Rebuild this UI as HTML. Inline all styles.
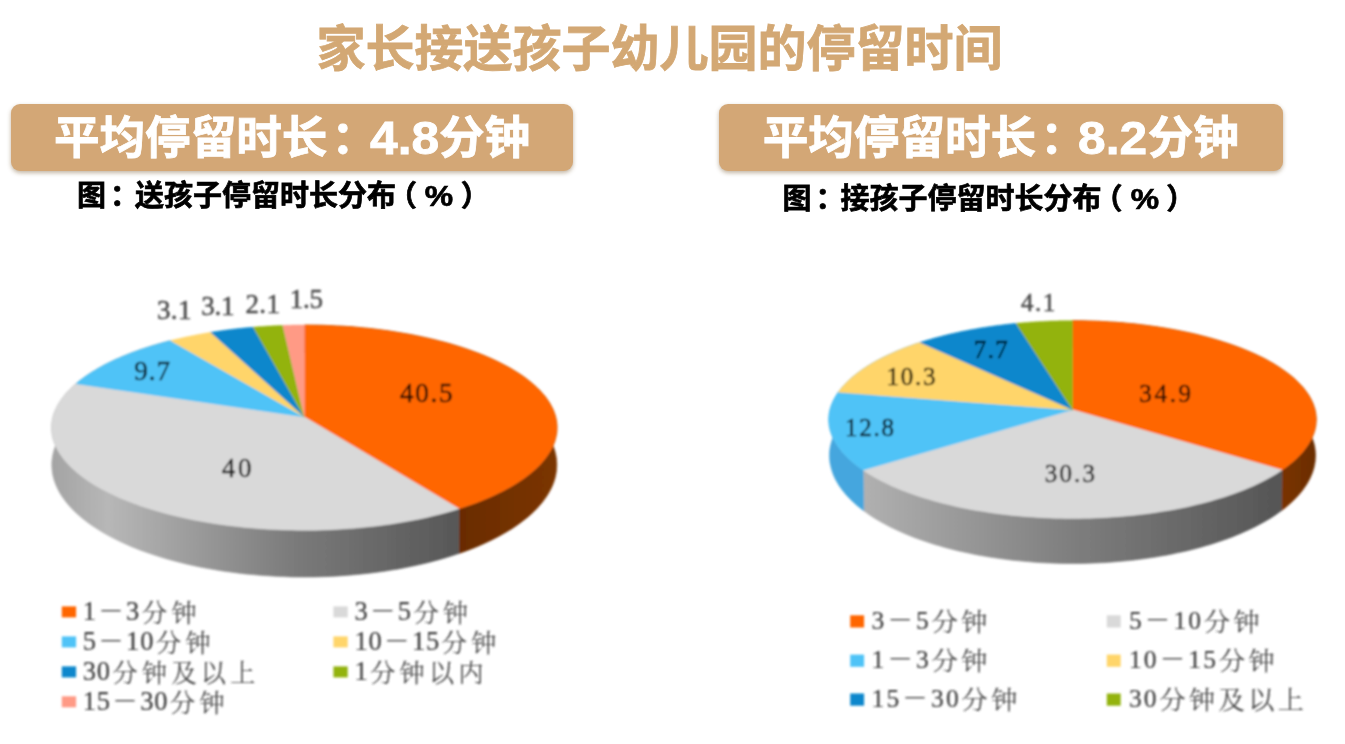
<!DOCTYPE html>
<html lang="zh-CN">
<head>
<meta charset="utf-8">
<title>家长接送孩子幼儿园的停留时间</title>
<style>
html,body{margin:0;padding:0;background:#fff;}
body{width:1345px;height:744px;position:relative;overflow:hidden;font-family:"Liberation Sans","Noto Sans CJK SC",sans-serif;}
.title{position:absolute;left:0;top:14px;width:1319px;text-align:center;font-size:49px;line-height:70px;font-weight:700;color:#d3a874;white-space:nowrap;letter-spacing:0;}
.banner{position:absolute;top:104.2px;height:66.4px;border-radius:9px;background:#d3a776;box-shadow:0 2px 4px rgba(120,90,50,.45);color:#fff;font-weight:700;font-size:45.6px;line-height:69px;text-align:center;white-space:nowrap;}
.b1{left:11px;width:562px;}
.b2{left:718.5px;width:564.5px;}
.sub{position:absolute;font-weight:700;font-size:29px;line-height:36px;color:#000;white-space:nowrap;-webkit-text-stroke:0.7px #000;}
.co{position:relative;left:0.09em;}
.sub .co{left:0.14em;}
.num{display:inline-block;transform:scaleX(1.09);transform-origin:0 50%;margin-left:-3.5px;margin-right:6px;}
.title{-webkit-text-stroke:0.8px #d3a874;}
.banner{-webkit-text-stroke:0.8px #fff;}
.lp{margin-left:-8px;margin-right:8px;}
.rp{margin-left:8px;}
.pc{display:inline-block;transform:scaleX(1.1);margin:0 1px;}
.s1{left:77px;top:178px;}
.s2{left:782.5px;top:181px;}
svg{position:absolute;left:0;top:0;}
svg text{font-family:"Liberation Serif","Noto Serif CJK SC",serif;}
svg text.lg{fill:#3d3d3d;font-weight:400;stroke:#3d3d3d;stroke-width:0.2px;}
svg text.cj{font-weight:300;}
#labels text{stroke-width:0.5px;}
</style>
</head>
<body>
<div class="title">家长接送孩子幼儿园的停留时间</div>
<div class="banner b1">平均停留时长<span class="co">：</span><span class="num">4.8</span>分钟</div>
<div class="banner b2">平均停留时长<span class="co">：</span><span class="num">8.2</span>分钟</div>
<div class="sub s1">图<span class="co">：</span>送孩子停留时长分布<span class="lp">（</span><span class="pc">%</span><span class="rp">）</span></div>
<div class="sub s2">图<span class="co">：</span>接孩子停留时长分布<span class="lp">（</span><span class="pc">%</span><span class="rp">）</span></div>
<svg width="1345" height="744" viewBox="0 0 1345 744">
<defs>
<filter id="soft" x="0" y="0" width="1345" height="744" filterUnits="userSpaceOnUse"><feGaussianBlur stdDeviation="0.8"/></filter>
<linearGradient id="w1g" gradientUnits="userSpaceOnUse" x1="51" y1="0" x2="459" y2="0">
<stop offset="0" stop-color="#a3a3a3"/><stop offset="0.14" stop-color="#b7b7b7"/><stop offset="0.6" stop-color="#7a7a7a"/><stop offset="1" stop-color="#575757"/>
</linearGradient>
<linearGradient id="w1o" gradientUnits="userSpaceOnUse" x1="459" y1="0" x2="557" y2="0">
<stop offset="0" stop-color="#6a2c00"/><stop offset="1" stop-color="#7b3500"/>
</linearGradient>
<linearGradient id="w2g" gradientUnits="userSpaceOnUse" x1="864" y1="0" x2="1281" y2="0">
<stop offset="0" stop-color="#b0b0b0"/><stop offset="0.5" stop-color="#7e7e7e"/><stop offset="1" stop-color="#555555"/>
</linearGradient>
<linearGradient id="w2o" gradientUnits="userSpaceOnUse" x1="1281" y1="0" x2="1317" y2="0">
<stop offset="0" stop-color="#7a3400"/><stop offset="1" stop-color="#6a2c00"/>
</linearGradient>
</defs>
<g filter="url(#soft)">
<g id="pie1">
<path d="M304.3 325.0 L310.7 325.1 L317.2 325.2 L323.6 325.3 L330.0 325.6 L336.4 325.9 L342.8 326.2 L349.1 326.6 L355.4 327.1 L361.7 327.7 L368.0 328.3 L374.2 329.0 L380.4 329.8 L386.6 330.6 L392.7 331.5 L398.7 332.5 L404.7 333.5 L410.6 334.5 L416.5 335.7 L422.3 336.9 L428.0 338.2 L433.7 339.5 L439.2 340.9 L444.7 342.3 L450.2 343.8 L455.5 345.4 L460.7 347.0 L465.8 348.7 L470.9 350.5 L475.8 352.3 L480.6 354.1 L485.3 356.0 L489.9 358.0 L494.4 360.0 L498.7 362.1 L502.9 364.2 L507.0 366.4 L511.0 368.6 L514.8 370.9 L518.5 373.2 L522.0 375.5 L525.4 377.9 L528.6 380.4 L531.7 382.9 L534.6 385.4 L537.3 387.9 L539.9 390.5 L542.3 393.2 L544.6 395.8 L546.6 398.5 L548.5 401.3 L550.2 404.0 L551.7 406.8 L553.1 409.6 L554.2 412.5 L555.2 415.3 L555.9 418.2 L556.5 421.1 L556.8 424.0 L557.0 426.9 L556.9 429.8 L556.7 432.7 L556.2 435.6 L555.5 438.6 L554.7 441.5 L553.6 444.4 L552.3 447.4 L550.8 450.3 L549.0 453.2 L547.1 456.1 L544.9 459.0 L542.6 461.8 L540.0 464.7 L537.2 467.5 L534.2 470.2 L531.0 473.0 L527.5 475.7 L523.9 478.4 L520.1 481.1 L516.0 483.7 L511.8 486.2 L507.3 488.7 L502.7 491.2 L497.9 493.6 L492.8 496.0 L487.6 498.3 L482.2 500.5 L476.7 502.7 L470.9 504.8 L465.0 506.8 L458.9 508.8 L458.8 553.5 L464.9 551.4 L470.8 549.2 L476.5 546.9 L482.1 544.5 L487.5 542.0 L492.7 539.5 L497.7 536.9 L502.5 534.3 L507.2 531.6 L511.6 528.9 L515.9 526.1 L519.9 523.2 L523.7 520.3 L527.4 517.4 L530.8 514.4 L534.0 511.4 L537.0 508.4 L539.8 505.3 L542.4 502.2 L544.7 499.1 L546.9 495.9 L548.8 492.8 L550.6 489.6 L552.1 486.4 L553.4 483.2 L554.5 480.0 L555.4 476.8 L556.0 473.6 L556.5 470.4 L556.7 467.2 L556.8 464.0 L556.6 460.8 L556.3 457.7 L555.7 454.5 L555.0 451.4 L554.0 448.3 L552.9 445.2 L551.5 442.1 L550.0 439.1 L548.3 436.0 L546.4 433.1 L544.4 430.1 L542.1 427.2 L539.7 424.3 L537.1 421.5 L534.4 418.7 L531.5 415.9 L528.4 413.2 L525.2 410.5 L521.8 407.9 L518.3 405.3 L514.6 402.8 L510.8 400.3 L506.8 397.9 L502.8 395.5 L498.5 393.2 L494.2 391.0 L489.7 388.8 L485.2 386.6 L480.5 384.5 L475.6 382.5 L470.7 380.5 L465.7 378.6 L460.6 376.8 L455.4 375.0 L450.0 373.3 L444.6 371.6 L439.1 370.1 L433.6 368.5 L427.9 367.1 L422.2 365.7 L416.4 364.4 L410.5 363.1 L404.6 362.0 L398.6 360.8 L392.6 359.8 L386.5 358.8 L380.4 357.9 L374.2 357.1 L368.0 356.3 L361.7 355.7 L355.4 355.0 L349.1 354.5 L342.7 354.0 L336.4 353.6 L330.0 353.3 L323.6 353.0 L317.1 352.9 L310.7 352.8 L304.3 352.7Z" fill="url(#w1o)" stroke="url(#w1o)" stroke-width="0.6"/>
<path d="M458.9 508.8 L452.8 510.7 L446.5 512.5 L440.0 514.2 L433.5 515.8 L426.8 517.4 L419.9 518.9 L413.0 520.3 L405.9 521.6 L398.7 522.8 L391.5 524.0 L384.1 525.0 L376.7 526.0 L369.1 526.8 L361.6 527.6 L353.9 528.3 L346.2 528.8 L338.5 529.3 L330.7 529.7 L322.9 530.0 L315.1 530.2 L307.2 530.3 L299.4 530.3 L291.6 530.1 L283.7 529.9 L276.0 529.6 L268.2 529.2 L260.5 528.7 L252.8 528.1 L245.1 527.4 L237.6 526.6 L230.1 525.7 L222.7 524.8 L215.3 523.7 L208.1 522.5 L200.9 521.3 L193.9 520.0 L187.0 518.5 L180.2 517.0 L173.5 515.4 L166.9 513.8 L160.5 512.0 L154.3 510.2 L148.1 508.3 L142.2 506.4 L136.4 504.3 L130.8 502.2 L125.3 500.1 L120.0 497.9 L114.9 495.6 L110.0 493.2 L105.2 490.8 L100.7 488.4 L96.3 485.9 L92.1 483.4 L88.1 480.8 L84.4 478.2 L80.8 475.5 L77.4 472.8 L74.3 470.1 L71.3 467.4 L68.5 464.6 L66.0 461.8 L63.7 459.0 L61.5 456.1 L59.6 453.3 L57.9 450.4 L56.4 447.5 L55.1 444.6 L54.0 441.7 L53.1 438.8 L52.4 435.9 L52.0 433.0 L51.7 430.2 L51.6 427.3 L51.7 424.4 L52.1 421.5 L52.6 418.7 L53.3 415.8 L54.2 413.0 L55.3 410.2 L56.6 407.4 L58.0 404.7 L59.7 402.0 L61.5 399.3 L63.5 396.6 L65.6 393.9 L68.0 391.3 L70.5 388.7 L73.1 386.2 L76.0 383.7 L76.1 416.8 L73.3 419.6 L70.7 422.4 L68.2 425.2 L65.8 428.0 L63.7 430.9 L61.7 433.8 L59.8 436.8 L58.2 439.8 L56.8 442.8 L55.5 445.8 L54.4 448.9 L53.5 452.0 L52.8 455.1 L52.3 458.2 L51.9 461.3 L51.8 464.4 L51.9 467.6 L52.2 470.8 L52.6 473.9 L53.3 477.1 L54.2 480.3 L55.3 483.4 L56.6 486.6 L58.1 489.7 L59.8 492.9 L61.7 496.0 L63.9 499.1 L66.2 502.2 L68.7 505.2 L71.5 508.3 L74.4 511.3 L77.6 514.2 L81.0 517.2 L84.5 520.1 L88.3 522.9 L92.3 525.8 L96.5 528.5 L100.8 531.2 L105.4 533.9 L110.1 536.5 L115.0 539.1 L120.1 541.6 L125.4 544.0 L130.9 546.4 L136.5 548.7 L142.3 550.9 L148.3 553.0 L154.4 555.1 L160.6 557.1 L167.0 559.0 L173.6 560.8 L180.3 562.5 L187.1 564.2 L194.0 565.7 L201.0 567.2 L208.1 568.5 L215.4 569.8 L222.7 571.0 L230.1 572.0 L237.6 573.0 L245.2 573.9 L252.8 574.6 L260.5 575.3 L268.2 575.8 L276.0 576.3 L283.8 576.6 L291.6 576.9 L299.4 577.0 L307.2 577.0 L315.1 576.9 L322.9 576.7 L330.7 576.4 L338.5 576.0 L346.2 575.4 L353.9 574.8 L361.5 574.1 L369.1 573.2 L376.6 572.3 L384.0 571.3 L391.4 570.1 L398.7 568.9 L405.8 567.5 L412.9 566.1 L419.8 564.6 L426.7 562.9 L433.4 561.2 L439.9 559.4 L446.4 557.6 L452.7 555.6 L458.8 553.5Z" fill="url(#w1g)" stroke="url(#w1g)" stroke-width="0.6"/>
<path d="M76.0 383.7 L76.7 383.1 L77.4 382.5 L78.1 381.9 L78.8 381.3 L79.6 380.7 L80.3 380.1 L81.1 379.5 L81.9 378.9 L82.7 378.4 L83.4 377.8 L84.2 377.2 L85.1 376.6 L85.9 376.1 L86.7 375.5 L87.5 374.9 L88.4 374.3 L89.2 373.8 L90.1 373.2 L90.9 372.7 L91.8 372.1 L92.7 371.6 L93.6 371.0 L94.5 370.5 L95.4 369.9 L96.3 369.4 L97.2 368.8 L98.2 368.3 L99.1 367.8 L100.0 367.2 L101.0 366.7 L102.0 366.2 L102.9 365.6 L103.9 365.1 L104.9 364.6 L105.9 364.1 L106.9 363.6 L107.9 363.1 L108.9 362.6 L109.9 362.1 L111.0 361.6 L112.0 361.1 L113.0 360.6 L114.1 360.1 L115.1 359.6 L116.2 359.1 L117.3 358.6 L118.4 358.2 L119.5 357.7 L120.5 357.2 L121.6 356.7 L122.7 356.3 L123.9 355.8 L125.0 355.3 L126.1 354.9 L127.2 354.4 L128.4 354.0 L129.5 353.5 L130.7 353.1 L131.8 352.6 L133.0 352.2 L134.2 351.8 L135.3 351.3 L136.5 350.9 L137.7 350.5 L138.9 350.1 L140.1 349.6 L141.3 349.2 L142.5 348.8 L143.8 348.4 L145.0 348.0 L146.2 347.6 L147.4 347.2 L148.7 346.8 L149.9 346.4 L151.2 346.0 L152.4 345.6 L153.7 345.2 L155.0 344.9 L156.2 344.5 L157.5 344.1 L158.8 343.7 L160.1 343.4 L161.4 343.0 L162.7 342.6 L164.0 342.3 L165.3 341.9 L166.6 341.6 L167.9 341.2 L169.3 340.9 L170.6 340.6 L170.7 369.7 L169.4 370.1 L168.0 370.5 L166.7 370.8 L165.4 371.2 L164.1 371.6 L162.8 372.0 L161.5 372.4 L160.2 372.8 L158.9 373.2 L157.6 373.6 L156.4 374.0 L155.1 374.4 L153.8 374.8 L152.6 375.2 L151.3 375.7 L150.1 376.1 L148.8 376.5 L147.6 376.9 L146.3 377.4 L145.1 377.8 L143.9 378.3 L142.7 378.7 L141.5 379.2 L140.2 379.6 L139.0 380.1 L137.9 380.5 L136.7 381.0 L135.5 381.5 L134.3 381.9 L133.1 382.4 L132.0 382.9 L130.8 383.4 L129.7 383.9 L128.5 384.4 L127.4 384.9 L126.2 385.4 L125.1 385.9 L124.0 386.4 L122.9 386.9 L121.8 387.4 L120.7 387.9 L119.6 388.4 L118.5 388.9 L117.4 389.4 L116.4 390.0 L115.3 390.5 L114.2 391.0 L113.2 391.6 L112.1 392.1 L111.1 392.7 L110.1 393.2 L109.1 393.8 L108.0 394.3 L107.0 394.9 L106.0 395.4 L105.0 396.0 L104.1 396.5 L103.1 397.1 L102.1 397.7 L101.2 398.3 L100.2 398.8 L99.3 399.4 L98.3 400.0 L97.4 400.6 L96.5 401.2 L95.6 401.8 L94.6 402.4 L93.7 403.0 L92.9 403.6 L92.0 404.2 L91.1 404.8 L90.2 405.4 L89.4 406.0 L88.5 406.6 L87.7 407.2 L86.9 407.9 L86.0 408.5 L85.2 409.1 L84.4 409.7 L83.6 410.4 L82.8 411.0 L82.1 411.6 L81.3 412.3 L80.5 412.9 L79.8 413.6 L79.0 414.2 L78.3 414.9 L77.6 415.5 L76.8 416.2 L76.1 416.8Z" fill="url(#w1g)" stroke="url(#w1g)" stroke-width="0.6"/>
<path d="M304.3 416.9 L304.3 325.0 L310.7 325.1 L317.2 325.2 L323.6 325.3 L330.0 325.6 L336.4 325.9 L342.8 326.2 L349.1 326.6 L355.4 327.1 L361.7 327.7 L368.0 328.3 L374.2 329.0 L380.4 329.8 L386.6 330.6 L392.7 331.5 L398.7 332.5 L404.7 333.5 L410.6 334.5 L416.5 335.7 L422.3 336.9 L428.0 338.2 L433.7 339.5 L439.2 340.9 L444.7 342.3 L450.2 343.8 L455.5 345.4 L460.7 347.0 L465.8 348.7 L470.9 350.5 L475.8 352.3 L480.6 354.1 L485.3 356.0 L489.9 358.0 L494.4 360.0 L498.7 362.1 L502.9 364.2 L507.0 366.4 L511.0 368.6 L514.8 370.9 L518.5 373.2 L522.0 375.5 L525.4 377.9 L528.6 380.4 L531.7 382.9 L534.6 385.4 L537.3 387.9 L539.9 390.5 L542.3 393.2 L544.6 395.8 L546.6 398.5 L548.5 401.3 L550.2 404.0 L551.7 406.8 L553.1 409.6 L554.2 412.5 L555.2 415.3 L555.9 418.2 L556.5 421.1 L556.8 424.0 L557.0 426.9 L556.9 429.8 L556.7 432.7 L556.2 435.6 L555.5 438.6 L554.7 441.5 L553.6 444.4 L552.3 447.4 L550.8 450.3 L549.0 453.2 L547.1 456.1 L544.9 459.0 L542.6 461.8 L540.0 464.7 L537.2 467.5 L534.2 470.2 L531.0 473.0 L527.5 475.7 L523.9 478.4 L520.1 481.1 L516.0 483.7 L511.8 486.2 L507.3 488.7 L502.7 491.2 L497.9 493.6 L492.8 496.0 L487.6 498.3 L482.2 500.5 L476.7 502.7 L470.9 504.8 L465.0 506.8 L458.9 508.8Z" fill="#ff6600" stroke="#ff6600" stroke-width="0.5"/>
<path d="M304.3 416.9 L458.9 508.8 L452.8 510.7 L446.5 512.5 L440.0 514.2 L433.5 515.8 L426.8 517.4 L419.9 518.9 L413.0 520.3 L405.9 521.6 L398.7 522.8 L391.5 524.0 L384.1 525.0 L376.7 526.0 L369.1 526.8 L361.6 527.6 L353.9 528.3 L346.2 528.8 L338.5 529.3 L330.7 529.7 L322.9 530.0 L315.1 530.2 L307.2 530.3 L299.4 530.3 L291.6 530.1 L283.7 529.9 L276.0 529.6 L268.2 529.2 L260.5 528.7 L252.8 528.1 L245.1 527.4 L237.6 526.6 L230.1 525.7 L222.7 524.8 L215.3 523.7 L208.1 522.5 L200.9 521.3 L193.9 520.0 L187.0 518.5 L180.2 517.0 L173.5 515.4 L166.9 513.8 L160.5 512.0 L154.3 510.2 L148.1 508.3 L142.2 506.4 L136.4 504.3 L130.8 502.2 L125.3 500.1 L120.0 497.9 L114.9 495.6 L110.0 493.2 L105.2 490.8 L100.7 488.4 L96.3 485.9 L92.1 483.4 L88.1 480.8 L84.4 478.2 L80.8 475.5 L77.4 472.8 L74.3 470.1 L71.3 467.4 L68.5 464.6 L66.0 461.8 L63.7 459.0 L61.5 456.1 L59.6 453.3 L57.9 450.4 L56.4 447.5 L55.1 444.6 L54.0 441.7 L53.1 438.8 L52.4 435.9 L52.0 433.0 L51.7 430.2 L51.6 427.3 L51.7 424.4 L52.1 421.5 L52.6 418.7 L53.3 415.8 L54.2 413.0 L55.3 410.2 L56.6 407.4 L58.0 404.7 L59.7 402.0 L61.5 399.3 L63.5 396.6 L65.6 393.9 L68.0 391.3 L70.5 388.7 L73.1 386.2 L76.0 383.7Z" fill="#d9d9d9" stroke="#d9d9d9" stroke-width="0.5"/>
<path d="M304.3 416.9 L76.0 383.7 L76.7 383.1 L77.4 382.5 L78.1 381.9 L78.8 381.3 L79.6 380.7 L80.3 380.1 L81.1 379.5 L81.9 378.9 L82.7 378.4 L83.4 377.8 L84.2 377.2 L85.1 376.6 L85.9 376.1 L86.7 375.5 L87.5 374.9 L88.4 374.3 L89.2 373.8 L90.1 373.2 L90.9 372.7 L91.8 372.1 L92.7 371.6 L93.6 371.0 L94.5 370.5 L95.4 369.9 L96.3 369.4 L97.2 368.8 L98.2 368.3 L99.1 367.8 L100.0 367.2 L101.0 366.7 L102.0 366.2 L102.9 365.6 L103.9 365.1 L104.9 364.6 L105.9 364.1 L106.9 363.6 L107.9 363.1 L108.9 362.6 L109.9 362.1 L111.0 361.6 L112.0 361.1 L113.0 360.6 L114.1 360.1 L115.1 359.6 L116.2 359.1 L117.3 358.6 L118.4 358.2 L119.5 357.7 L120.5 357.2 L121.6 356.7 L122.7 356.3 L123.9 355.8 L125.0 355.3 L126.1 354.9 L127.2 354.4 L128.4 354.0 L129.5 353.5 L130.7 353.1 L131.8 352.6 L133.0 352.2 L134.2 351.8 L135.3 351.3 L136.5 350.9 L137.7 350.5 L138.9 350.1 L140.1 349.6 L141.3 349.2 L142.5 348.8 L143.8 348.4 L145.0 348.0 L146.2 347.6 L147.4 347.2 L148.7 346.8 L149.9 346.4 L151.2 346.0 L152.4 345.6 L153.7 345.2 L155.0 344.9 L156.2 344.5 L157.5 344.1 L158.8 343.7 L160.1 343.4 L161.4 343.0 L162.7 342.6 L164.0 342.3 L165.3 341.9 L166.6 341.6 L167.9 341.2 L169.3 340.9 L170.6 340.6Z" fill="#4fc3f7" stroke="#4fc3f7" stroke-width="0.5"/>
<path d="M304.3 416.9 L170.6 340.6 L171.0 340.5 L171.4 340.4 L171.9 340.2 L172.3 340.1 L172.7 340.0 L173.1 339.9 L173.6 339.8 L174.0 339.7 L174.4 339.6 L174.9 339.5 L175.3 339.4 L175.7 339.3 L176.2 339.2 L176.6 339.1 L177.0 339.0 L177.4 338.9 L177.9 338.8 L178.3 338.7 L178.7 338.6 L179.2 338.5 L179.6 338.4 L180.0 338.3 L180.5 338.2 L180.9 338.1 L181.4 338.0 L181.8 337.9 L182.2 337.8 L182.7 337.7 L183.1 337.6 L183.5 337.5 L184.0 337.4 L184.4 337.3 L184.9 337.2 L185.3 337.1 L185.7 337.0 L186.2 336.9 L186.6 336.8 L187.1 336.7 L187.5 336.6 L188.0 336.5 L188.4 336.5 L188.8 336.4 L189.3 336.3 L189.7 336.2 L190.2 336.1 L190.6 336.0 L191.1 335.9 L191.5 335.8 L192.0 335.7 L192.4 335.6 L192.8 335.5 L193.3 335.5 L193.7 335.4 L194.2 335.3 L194.6 335.2 L195.1 335.1 L195.5 335.0 L196.0 334.9 L196.4 334.8 L196.9 334.8 L197.3 334.7 L197.8 334.6 L198.2 334.5 L198.7 334.4 L199.1 334.3 L199.6 334.2 L200.0 334.2 L200.5 334.1 L201.0 334.0 L201.4 333.9 L201.9 333.8 L202.3 333.7 L202.8 333.7 L203.2 333.6 L203.7 333.5 L204.1 333.4 L204.6 333.3 L205.1 333.3 L205.5 333.2 L206.0 333.1 L206.4 333.0 L206.9 333.0 L207.3 332.9 L207.8 332.8 L208.3 332.7 L208.7 332.6 L209.2 332.6 L209.6 332.5 L210.1 332.4 L210.6 332.3Z" fill="#ffd56b" stroke="#ffd56b" stroke-width="0.5"/>
<path d="M304.3 416.9 L210.6 332.3 L211.0 332.3 L211.5 332.2 L211.9 332.1 L212.4 332.0 L212.9 332.0 L213.3 331.9 L213.8 331.8 L214.3 331.8 L214.7 331.7 L215.2 331.6 L215.7 331.5 L216.1 331.5 L216.6 331.4 L217.0 331.3 L217.5 331.3 L218.0 331.2 L218.4 331.1 L218.9 331.1 L219.4 331.0 L219.8 330.9 L220.3 330.9 L220.8 330.8 L221.2 330.7 L221.7 330.7 L222.2 330.6 L222.7 330.5 L223.1 330.5 L223.6 330.4 L224.1 330.3 L224.5 330.3 L225.0 330.2 L225.5 330.1 L225.9 330.1 L226.4 330.0 L226.9 330.0 L227.4 329.9 L227.8 329.8 L228.3 329.8 L228.8 329.7 L229.2 329.7 L229.7 329.6 L230.2 329.5 L230.7 329.5 L231.1 329.4 L231.6 329.4 L232.1 329.3 L232.6 329.2 L233.0 329.2 L233.5 329.1 L234.0 329.1 L234.5 329.0 L234.9 329.0 L235.4 328.9 L235.9 328.9 L236.4 328.8 L236.8 328.7 L237.3 328.7 L237.8 328.6 L238.3 328.6 L238.7 328.5 L239.2 328.5 L239.7 328.4 L240.2 328.4 L240.7 328.3 L241.1 328.3 L241.6 328.2 L242.1 328.2 L242.6 328.1 L243.1 328.1 L243.5 328.0 L244.0 328.0 L244.5 327.9 L245.0 327.9 L245.4 327.8 L245.9 327.8 L246.4 327.7 L246.9 327.7 L247.4 327.7 L247.9 327.6 L248.3 327.6 L248.8 327.5 L249.3 327.5 L249.8 327.4 L250.3 327.4 L250.7 327.4 L251.2 327.3 L251.7 327.3 L252.2 327.2 L252.7 327.2 L253.2 327.1Z" fill="#0b87cc" stroke="#0b87cc" stroke-width="0.5"/>
<path d="M304.3 416.9 L253.2 327.1 L253.5 327.1 L253.8 327.1 L254.1 327.1 L254.5 327.0 L254.8 327.0 L255.1 327.0 L255.5 327.0 L255.8 326.9 L256.1 326.9 L256.4 326.9 L256.8 326.9 L257.1 326.8 L257.4 326.8 L257.7 326.8 L258.1 326.8 L258.4 326.7 L258.7 326.7 L259.1 326.7 L259.4 326.7 L259.7 326.6 L260.1 326.6 L260.4 326.6 L260.7 326.6 L261.0 326.5 L261.4 326.5 L261.7 326.5 L262.0 326.5 L262.4 326.4 L262.7 326.4 L263.0 326.4 L263.3 326.4 L263.7 326.4 L264.0 326.3 L264.3 326.3 L264.7 326.3 L265.0 326.3 L265.3 326.2 L265.7 326.2 L266.0 326.2 L266.3 326.2 L266.6 326.2 L267.0 326.1 L267.3 326.1 L267.6 326.1 L268.0 326.1 L268.3 326.1 L268.6 326.0 L269.0 326.0 L269.3 326.0 L269.6 326.0 L269.9 326.0 L270.3 326.0 L270.6 325.9 L270.9 325.9 L271.3 325.9 L271.6 325.9 L271.9 325.9 L272.3 325.8 L272.6 325.8 L272.9 325.8 L273.3 325.8 L273.6 325.8 L273.9 325.8 L274.3 325.7 L274.6 325.7 L274.9 325.7 L275.2 325.7 L275.6 325.7 L275.9 325.7 L276.2 325.7 L276.6 325.6 L276.9 325.6 L277.2 325.6 L277.6 325.6 L277.9 325.6 L278.2 325.6 L278.6 325.6 L278.9 325.5 L279.2 325.5 L279.6 325.5 L279.9 325.5 L280.2 325.5 L280.6 325.5 L280.9 325.5 L281.2 325.4 L281.6 325.4 L281.9 325.4 L282.2 325.4 L282.6 325.4 L282.9 325.4Z" fill="#93b311" stroke="#93b311" stroke-width="0.5"/>
<path d="M304.3 416.9 L282.9 325.4 L283.1 325.4 L283.4 325.4 L283.6 325.4 L283.8 325.4 L284.1 325.3 L284.3 325.3 L284.5 325.3 L284.8 325.3 L285.0 325.3 L285.3 325.3 L285.5 325.3 L285.7 325.3 L286.0 325.3 L286.2 325.3 L286.4 325.3 L286.7 325.3 L286.9 325.3 L287.2 325.3 L287.4 325.2 L287.6 325.2 L287.9 325.2 L288.1 325.2 L288.3 325.2 L288.6 325.2 L288.8 325.2 L289.1 325.2 L289.3 325.2 L289.5 325.2 L289.8 325.2 L290.0 325.2 L290.3 325.2 L290.5 325.2 L290.7 325.2 L291.0 325.2 L291.2 325.2 L291.4 325.2 L291.7 325.1 L291.9 325.1 L292.2 325.1 L292.4 325.1 L292.6 325.1 L292.9 325.1 L293.1 325.1 L293.3 325.1 L293.6 325.1 L293.8 325.1 L294.1 325.1 L294.3 325.1 L294.5 325.1 L294.8 325.1 L295.0 325.1 L295.2 325.1 L295.5 325.1 L295.7 325.1 L296.0 325.1 L296.2 325.1 L296.4 325.1 L296.7 325.1 L296.9 325.1 L297.2 325.1 L297.4 325.1 L297.6 325.1 L297.9 325.1 L298.1 325.1 L298.3 325.0 L298.6 325.0 L298.8 325.0 L299.1 325.0 L299.3 325.0 L299.5 325.0 L299.8 325.0 L300.0 325.0 L300.3 325.0 L300.5 325.0 L300.7 325.0 L301.0 325.0 L301.2 325.0 L301.4 325.0 L301.7 325.0 L301.9 325.0 L302.2 325.0 L302.4 325.0 L302.6 325.0 L302.9 325.0 L303.1 325.0 L303.3 325.0 L303.6 325.0 L303.8 325.0 L304.1 325.0 L304.3 325.0Z" fill="#ff9a85" stroke="#ff9a85" stroke-width="0.5"/>
</g>
<g id="pie2">
<path d="M1072.5 320.7 L1077.9 320.7 L1083.2 320.8 L1088.6 320.9 L1094.0 321.1 L1099.3 321.3 L1104.7 321.6 L1110.0 321.9 L1115.3 322.2 L1120.6 322.6 L1125.8 323.1 L1131.1 323.6 L1136.3 324.1 L1141.5 324.7 L1146.7 325.4 L1151.8 326.1 L1156.9 326.8 L1161.9 327.6 L1166.9 328.4 L1171.9 329.3 L1176.8 330.2 L1181.7 331.2 L1186.6 332.2 L1191.3 333.2 L1196.1 334.3 L1200.7 335.5 L1205.4 336.7 L1209.9 337.9 L1214.4 339.2 L1218.8 340.5 L1223.2 341.9 L1227.5 343.3 L1231.7 344.7 L1235.8 346.2 L1239.9 347.7 L1243.9 349.3 L1247.8 350.9 L1251.6 352.5 L1255.3 354.2 L1258.9 355.9 L1262.5 357.6 L1266.0 359.4 L1269.3 361.3 L1272.6 363.1 L1275.7 365.0 L1278.8 366.9 L1281.7 368.9 L1284.6 370.9 L1287.3 372.9 L1290.0 374.9 L1292.5 377.0 L1294.9 379.1 L1297.1 381.2 L1299.3 383.4 L1301.3 385.6 L1303.3 387.8 L1305.1 390.0 L1306.7 392.3 L1308.3 394.5 L1309.7 396.8 L1310.9 399.1 L1312.1 401.5 L1313.1 403.8 L1313.9 406.2 L1314.7 408.5 L1315.3 410.9 L1315.7 413.3 L1316.0 415.7 L1316.2 418.1 L1316.2 420.5 L1316.0 423.0 L1315.8 425.4 L1315.3 427.8 L1314.8 430.2 L1314.0 432.7 L1313.2 435.1 L1312.1 437.5 L1310.9 439.9 L1309.6 442.3 L1308.1 444.8 L1306.5 447.1 L1304.7 449.5 L1302.8 451.9 L1300.7 454.2 L1298.5 456.6 L1296.1 458.9 L1293.5 461.2 L1290.8 463.5 L1288.0 465.7 L1285.0 467.9 L1281.9 470.1 L1281.3 510.8 L1284.4 508.4 L1287.4 506.0 L1290.2 503.5 L1292.9 501.0 L1295.4 498.5 L1297.8 496.0 L1300.0 493.4 L1302.1 490.9 L1304.0 488.3 L1305.8 485.7 L1307.5 483.1 L1308.9 480.5 L1310.3 477.8 L1311.4 475.2 L1312.5 472.5 L1313.3 469.9 L1314.1 467.2 L1314.6 464.6 L1315.1 461.9 L1315.3 459.3 L1315.5 456.6 L1315.5 454.0 L1315.3 451.4 L1315.0 448.7 L1314.6 446.1 L1314.0 443.5 L1313.2 440.9 L1312.4 438.4 L1311.4 435.8 L1310.3 433.3 L1309.0 430.7 L1307.6 428.2 L1306.0 425.8 L1304.4 423.3 L1302.6 420.9 L1300.7 418.5 L1298.7 416.1 L1296.5 413.7 L1294.2 411.4 L1291.8 409.1 L1289.3 406.8 L1286.7 404.6 L1284.0 402.4 L1281.1 400.2 L1278.2 398.1 L1275.1 396.0 L1272.0 393.9 L1268.7 391.9 L1265.4 389.9 L1261.9 387.9 L1258.4 386.0 L1254.8 384.2 L1251.1 382.3 L1247.3 380.5 L1243.4 378.8 L1239.4 377.1 L1235.4 375.4 L1231.2 373.8 L1227.0 372.2 L1222.8 370.7 L1218.4 369.2 L1214.0 367.8 L1209.5 366.4 L1205.0 365.1 L1200.4 363.8 L1195.7 362.5 L1191.0 361.3 L1186.2 360.2 L1181.4 359.0 L1176.6 358.0 L1171.6 357.0 L1166.7 356.0 L1161.7 355.1 L1156.6 354.3 L1151.6 353.5 L1146.4 352.7 L1141.3 352.0 L1136.1 351.4 L1130.9 350.8 L1125.7 350.2 L1120.4 349.7 L1115.2 349.3 L1109.9 348.9 L1104.6 348.5 L1099.2 348.3 L1093.9 348.0 L1088.6 347.8 L1083.2 347.7 L1077.9 347.6 L1072.5 347.6Z" fill="url(#w2o)" stroke="url(#w2o)" stroke-width="0.6"/>
<path d="M1281.9 470.1 L1279.0 472.0 L1276.1 473.9 L1273.0 475.7 L1269.9 477.5 L1266.6 479.3 L1263.3 481.1 L1259.8 482.8 L1256.2 484.5 L1252.6 486.2 L1248.8 487.8 L1244.9 489.4 L1241.0 491.0 L1236.9 492.5 L1232.8 494.0 L1228.5 495.5 L1224.2 496.9 L1219.8 498.3 L1215.3 499.6 L1210.8 501.0 L1206.1 502.2 L1201.4 503.4 L1196.6 504.6 L1191.7 505.8 L1186.8 506.9 L1181.8 507.9 L1176.7 508.9 L1171.6 509.9 L1166.4 510.8 L1161.2 511.6 L1155.9 512.4 L1150.6 513.2 L1145.2 513.9 L1139.8 514.6 L1134.3 515.2 L1128.8 515.7 L1123.3 516.2 L1117.7 516.7 L1112.1 517.1 L1106.5 517.4 L1100.9 517.7 L1095.2 518.0 L1089.5 518.2 L1083.9 518.3 L1078.2 518.4 L1072.5 518.4 L1066.8 518.4 L1061.1 518.3 L1055.5 518.2 L1049.8 518.0 L1044.1 517.7 L1038.5 517.4 L1032.9 517.1 L1027.3 516.7 L1021.7 516.2 L1016.2 515.7 L1010.7 515.2 L1005.2 514.6 L999.8 513.9 L994.4 513.2 L989.1 512.4 L983.8 511.6 L978.6 510.8 L973.4 509.9 L968.3 508.9 L963.2 507.9 L958.2 506.9 L953.3 505.8 L948.4 504.6 L943.6 503.4 L938.9 502.2 L934.2 501.0 L929.7 499.6 L925.2 498.3 L920.8 496.9 L916.5 495.5 L912.2 494.0 L908.1 492.5 L904.0 491.0 L900.1 489.4 L896.2 487.8 L892.4 486.2 L888.8 484.5 L885.2 482.8 L881.7 481.1 L878.4 479.3 L875.1 477.5 L872.0 475.7 L868.9 473.9 L866.0 472.0 L863.1 470.1 L863.7 510.8 L866.5 512.8 L869.5 514.9 L872.5 516.9 L875.7 518.9 L878.9 520.8 L882.3 522.7 L885.7 524.6 L889.3 526.5 L893.0 528.3 L896.7 530.1 L900.6 531.8 L904.5 533.6 L908.6 535.2 L912.7 536.9 L916.9 538.5 L921.2 540.0 L925.6 541.5 L930.1 543.0 L934.6 544.5 L939.3 545.8 L944.0 547.2 L948.8 548.5 L953.6 549.7 L958.5 550.9 L963.5 552.0 L968.6 553.1 L973.7 554.2 L978.8 555.2 L984.1 556.1 L989.3 557.0 L994.7 557.8 L1000.0 558.6 L1005.4 559.3 L1010.9 560.0 L1016.4 560.6 L1021.9 561.1 L1027.4 561.6 L1033.0 562.1 L1038.6 562.5 L1044.2 562.8 L1049.9 563.0 L1055.5 563.2 L1061.2 563.4 L1066.8 563.5 L1072.5 563.5 L1078.2 563.5 L1083.8 563.4 L1089.5 563.2 L1095.1 563.0 L1100.8 562.8 L1106.4 562.5 L1112.0 562.1 L1117.6 561.6 L1123.1 561.1 L1128.6 560.6 L1134.1 560.0 L1139.6 559.3 L1145.0 558.6 L1150.3 557.8 L1155.7 557.0 L1160.9 556.1 L1166.2 555.2 L1171.3 554.2 L1176.4 553.1 L1181.5 552.0 L1186.5 550.9 L1191.4 549.7 L1196.2 548.5 L1201.0 547.2 L1205.7 545.8 L1210.4 544.5 L1214.9 543.0 L1219.4 541.5 L1223.8 540.0 L1228.1 538.5 L1232.3 536.9 L1236.4 535.2 L1240.5 533.6 L1244.4 531.8 L1248.3 530.1 L1252.0 528.3 L1255.7 526.5 L1259.3 524.6 L1262.7 522.7 L1266.1 520.8 L1269.3 518.9 L1272.5 516.9 L1275.5 514.9 L1278.5 512.8 L1281.3 510.8Z" fill="url(#w2g)" stroke="url(#w2g)" stroke-width="0.6"/>
<path d="M863.1 470.1 L862.0 469.3 L860.8 468.5 L859.7 467.7 L858.6 466.9 L857.5 466.1 L856.4 465.3 L855.4 464.4 L854.3 463.6 L853.3 462.8 L852.4 461.9 L851.4 461.1 L850.4 460.3 L849.5 459.4 L848.6 458.6 L847.7 457.7 L846.9 456.9 L846.0 456.0 L845.2 455.2 L844.4 454.3 L843.6 453.5 L842.8 452.6 L842.1 451.7 L841.4 450.9 L840.7 450.0 L840.0 449.1 L839.3 448.2 L838.7 447.4 L838.0 446.5 L837.4 445.6 L836.9 444.7 L836.3 443.9 L835.8 443.0 L835.2 442.1 L834.7 441.2 L834.3 440.3 L833.8 439.4 L833.4 438.6 L832.9 437.7 L832.5 436.8 L832.2 435.9 L831.8 435.0 L831.5 434.1 L831.2 433.2 L830.9 432.3 L830.6 431.4 L830.3 430.6 L830.1 429.7 L829.9 428.8 L829.7 427.9 L829.5 427.0 L829.3 426.1 L829.2 425.2 L829.1 424.3 L829.0 423.4 L828.9 422.5 L828.9 421.7 L828.8 420.8 L828.8 419.9 L828.8 419.0 L828.8 418.1 L828.9 417.2 L828.9 416.3 L829.0 415.5 L829.1 414.6 L829.2 413.7 L829.4 412.8 L829.5 411.9 L829.7 411.1 L829.9 410.2 L830.1 409.3 L830.4 408.4 L830.6 407.6 L830.9 406.7 L831.2 405.8 L831.5 405.0 L831.8 404.1 L832.2 403.2 L832.5 402.4 L832.9 401.5 L833.3 400.7 L833.7 399.8 L834.2 399.0 L834.6 398.1 L835.1 397.3 L835.6 396.4 L836.1 395.6 L836.6 394.7 L837.2 393.9 L837.7 393.1 L838.3 392.2 L839.0 425.7 L838.4 426.6 L837.8 427.6 L837.3 428.5 L836.8 429.4 L836.3 430.3 L835.8 431.2 L835.3 432.1 L834.8 433.1 L834.4 434.0 L834.0 434.9 L833.6 435.9 L833.2 436.8 L832.8 437.7 L832.5 438.7 L832.2 439.6 L831.9 440.6 L831.6 441.5 L831.3 442.5 L831.1 443.4 L830.8 444.4 L830.6 445.3 L830.4 446.3 L830.2 447.2 L830.1 448.2 L829.9 449.2 L829.8 450.1 L829.7 451.1 L829.6 452.0 L829.6 453.0 L829.5 454.0 L829.5 454.9 L829.5 455.9 L829.5 456.9 L829.6 457.9 L829.6 458.8 L829.7 459.8 L829.8 460.8 L829.9 461.7 L830.0 462.7 L830.2 463.7 L830.4 464.7 L830.6 465.6 L830.8 466.6 L831.0 467.6 L831.3 468.5 L831.6 469.5 L831.9 470.5 L832.2 471.5 L832.5 472.4 L832.9 473.4 L833.2 474.4 L833.6 475.3 L834.0 476.3 L834.5 477.3 L834.9 478.3 L835.4 479.2 L835.9 480.2 L836.4 481.1 L837.0 482.1 L837.5 483.1 L838.1 484.0 L838.7 485.0 L839.3 485.9 L840.0 486.9 L840.6 487.8 L841.3 488.8 L842.0 489.7 L842.7 490.7 L843.5 491.6 L844.2 492.6 L845.0 493.5 L845.8 494.5 L846.7 495.4 L847.5 496.3 L848.4 497.2 L849.3 498.2 L850.2 499.1 L851.1 500.0 L852.0 500.9 L853.0 501.8 L854.0 502.8 L855.0 503.7 L856.0 504.6 L857.0 505.5 L858.1 506.4 L859.2 507.3 L860.3 508.1 L861.4 509.0 L862.6 509.9 L863.7 510.8Z" fill="#45a6de" stroke="#45a6de" stroke-width="0.6"/>
<path d="M838.3 392.2 L838.8 391.6 L839.3 390.9 L839.8 390.2 L840.3 389.6 L840.8 388.9 L841.3 388.3 L841.9 387.6 L842.4 387.0 L843.0 386.3 L843.6 385.7 L844.2 385.0 L844.8 384.4 L845.4 383.7 L846.0 383.1 L846.6 382.5 L847.3 381.8 L847.9 381.2 L848.6 380.6 L849.2 379.9 L849.9 379.3 L850.6 378.7 L851.3 378.0 L852.0 377.4 L852.8 376.8 L853.5 376.2 L854.2 375.6 L855.0 375.0 L855.7 374.4 L856.5 373.8 L857.3 373.2 L858.1 372.6 L858.9 372.0 L859.7 371.4 L860.5 370.8 L861.4 370.2 L862.2 369.6 L863.0 369.0 L863.9 368.4 L864.8 367.9 L865.7 367.3 L866.5 366.7 L867.4 366.1 L868.3 365.6 L869.3 365.0 L870.2 364.4 L871.1 363.9 L872.0 363.3 L873.0 362.8 L873.9 362.2 L874.9 361.7 L875.9 361.1 L876.9 360.6 L877.9 360.1 L878.9 359.5 L879.9 359.0 L880.9 358.5 L881.9 357.9 L882.9 357.4 L884.0 356.9 L885.0 356.4 L886.1 355.9 L887.2 355.4 L888.2 354.9 L889.3 354.4 L890.4 353.9 L891.5 353.4 L892.6 352.9 L893.7 352.4 L894.8 351.9 L896.0 351.4 L897.1 350.9 L898.2 350.4 L899.4 350.0 L900.5 349.5 L901.7 349.0 L902.9 348.6 L904.0 348.1 L905.2 347.7 L906.4 347.2 L907.6 346.8 L908.8 346.3 L910.0 345.9 L911.3 345.4 L912.5 345.0 L913.7 344.6 L914.9 344.1 L916.2 343.7 L917.4 343.3 L918.7 342.9 L920.0 342.4 L920.4 371.4 L919.1 371.8 L917.9 372.3 L916.6 372.7 L915.4 373.2 L914.2 373.7 L912.9 374.1 L911.7 374.6 L910.5 375.1 L909.3 375.6 L908.1 376.1 L906.9 376.5 L905.7 377.0 L904.5 377.5 L903.4 378.0 L902.2 378.5 L901.0 379.1 L899.9 379.6 L898.7 380.1 L897.6 380.6 L896.5 381.1 L895.3 381.7 L894.2 382.2 L893.1 382.7 L892.0 383.3 L890.9 383.8 L889.8 384.4 L888.8 384.9 L887.7 385.5 L886.6 386.0 L885.6 386.6 L884.5 387.1 L883.5 387.7 L882.5 388.3 L881.4 388.9 L880.4 389.4 L879.4 390.0 L878.4 390.6 L877.4 391.2 L876.5 391.8 L875.5 392.4 L874.5 393.0 L873.6 393.6 L872.6 394.2 L871.7 394.8 L870.8 395.4 L869.8 396.0 L868.9 396.6 L868.0 397.2 L867.1 397.9 L866.2 398.5 L865.4 399.1 L864.5 399.7 L863.7 400.4 L862.8 401.0 L862.0 401.7 L861.1 402.3 L860.3 402.9 L859.5 403.6 L858.7 404.2 L857.9 404.9 L857.1 405.6 L856.4 406.2 L855.6 406.9 L854.9 407.5 L854.1 408.2 L853.4 408.9 L852.7 409.6 L852.0 410.2 L851.3 410.9 L850.6 411.6 L849.9 412.3 L849.2 413.0 L848.6 413.7 L847.9 414.3 L847.3 415.0 L846.6 415.7 L846.0 416.4 L845.4 417.1 L844.8 417.8 L844.2 418.6 L843.7 419.3 L843.1 420.0 L842.5 420.7 L842.0 421.4 L841.5 422.1 L840.9 422.8 L840.4 423.6 L839.9 424.3 L839.4 425.0 L839.0 425.7Z" fill="#45a6de" stroke="#45a6de" stroke-width="0.6"/>
<path d="M1072.5 409.8 L1072.5 320.7 L1077.9 320.7 L1083.2 320.8 L1088.6 320.9 L1094.0 321.1 L1099.3 321.3 L1104.7 321.6 L1110.0 321.9 L1115.3 322.2 L1120.6 322.6 L1125.8 323.1 L1131.1 323.6 L1136.3 324.1 L1141.5 324.7 L1146.7 325.4 L1151.8 326.1 L1156.9 326.8 L1161.9 327.6 L1166.9 328.4 L1171.9 329.3 L1176.8 330.2 L1181.7 331.2 L1186.6 332.2 L1191.3 333.2 L1196.1 334.3 L1200.7 335.5 L1205.4 336.7 L1209.9 337.9 L1214.4 339.2 L1218.8 340.5 L1223.2 341.9 L1227.5 343.3 L1231.7 344.7 L1235.8 346.2 L1239.9 347.7 L1243.9 349.3 L1247.8 350.9 L1251.6 352.5 L1255.3 354.2 L1258.9 355.9 L1262.5 357.6 L1266.0 359.4 L1269.3 361.3 L1272.6 363.1 L1275.7 365.0 L1278.8 366.9 L1281.7 368.9 L1284.6 370.9 L1287.3 372.9 L1290.0 374.9 L1292.5 377.0 L1294.9 379.1 L1297.1 381.2 L1299.3 383.4 L1301.3 385.6 L1303.3 387.8 L1305.1 390.0 L1306.7 392.3 L1308.3 394.5 L1309.7 396.8 L1310.9 399.1 L1312.1 401.5 L1313.1 403.8 L1313.9 406.2 L1314.7 408.5 L1315.3 410.9 L1315.7 413.3 L1316.0 415.7 L1316.2 418.1 L1316.2 420.5 L1316.0 423.0 L1315.8 425.4 L1315.3 427.8 L1314.8 430.2 L1314.0 432.7 L1313.2 435.1 L1312.1 437.5 L1310.9 439.9 L1309.6 442.3 L1308.1 444.8 L1306.5 447.1 L1304.7 449.5 L1302.8 451.9 L1300.7 454.2 L1298.5 456.6 L1296.1 458.9 L1293.5 461.2 L1290.8 463.5 L1288.0 465.7 L1285.0 467.9 L1281.9 470.1Z" fill="#ff6600" stroke="#ff6600" stroke-width="0.5"/>
<path d="M1072.5 409.8 L1281.9 470.1 L1279.0 472.0 L1276.1 473.9 L1273.0 475.7 L1269.9 477.5 L1266.6 479.3 L1263.3 481.1 L1259.8 482.8 L1256.2 484.5 L1252.6 486.2 L1248.8 487.8 L1244.9 489.4 L1241.0 491.0 L1236.9 492.5 L1232.8 494.0 L1228.5 495.5 L1224.2 496.9 L1219.8 498.3 L1215.3 499.6 L1210.8 501.0 L1206.1 502.2 L1201.4 503.4 L1196.6 504.6 L1191.7 505.8 L1186.8 506.9 L1181.8 507.9 L1176.7 508.9 L1171.6 509.9 L1166.4 510.8 L1161.2 511.6 L1155.9 512.4 L1150.6 513.2 L1145.2 513.9 L1139.8 514.6 L1134.3 515.2 L1128.8 515.7 L1123.3 516.2 L1117.7 516.7 L1112.1 517.1 L1106.5 517.4 L1100.9 517.7 L1095.2 518.0 L1089.5 518.2 L1083.9 518.3 L1078.2 518.4 L1072.5 518.4 L1066.8 518.4 L1061.1 518.3 L1055.5 518.2 L1049.8 518.0 L1044.1 517.7 L1038.5 517.4 L1032.9 517.1 L1027.3 516.7 L1021.7 516.2 L1016.2 515.7 L1010.7 515.2 L1005.2 514.6 L999.8 513.9 L994.4 513.2 L989.1 512.4 L983.8 511.6 L978.6 510.8 L973.4 509.9 L968.3 508.9 L963.2 507.9 L958.2 506.9 L953.3 505.8 L948.4 504.6 L943.6 503.4 L938.9 502.2 L934.2 501.0 L929.7 499.6 L925.2 498.3 L920.8 496.9 L916.5 495.5 L912.2 494.0 L908.1 492.5 L904.0 491.0 L900.1 489.4 L896.2 487.8 L892.4 486.2 L888.8 484.5 L885.2 482.8 L881.7 481.1 L878.4 479.3 L875.1 477.5 L872.0 475.7 L868.9 473.9 L866.0 472.0 L863.1 470.1Z" fill="#d9d9d9" stroke="#d9d9d9" stroke-width="0.5"/>
<path d="M1072.5 409.8 L863.1 470.1 L862.0 469.3 L860.8 468.5 L859.7 467.7 L858.6 466.9 L857.5 466.1 L856.4 465.3 L855.4 464.4 L854.3 463.6 L853.3 462.8 L852.4 461.9 L851.4 461.1 L850.4 460.3 L849.5 459.4 L848.6 458.6 L847.7 457.7 L846.9 456.9 L846.0 456.0 L845.2 455.2 L844.4 454.3 L843.6 453.5 L842.8 452.6 L842.1 451.7 L841.4 450.9 L840.7 450.0 L840.0 449.1 L839.3 448.2 L838.7 447.4 L838.0 446.5 L837.4 445.6 L836.9 444.7 L836.3 443.9 L835.8 443.0 L835.2 442.1 L834.7 441.2 L834.3 440.3 L833.8 439.4 L833.4 438.6 L832.9 437.7 L832.5 436.8 L832.2 435.9 L831.8 435.0 L831.5 434.1 L831.2 433.2 L830.9 432.3 L830.6 431.4 L830.3 430.6 L830.1 429.7 L829.9 428.8 L829.7 427.9 L829.5 427.0 L829.3 426.1 L829.2 425.2 L829.1 424.3 L829.0 423.4 L828.9 422.5 L828.9 421.7 L828.8 420.8 L828.8 419.9 L828.8 419.0 L828.8 418.1 L828.9 417.2 L828.9 416.3 L829.0 415.5 L829.1 414.6 L829.2 413.7 L829.4 412.8 L829.5 411.9 L829.7 411.1 L829.9 410.2 L830.1 409.3 L830.4 408.4 L830.6 407.6 L830.9 406.7 L831.2 405.8 L831.5 405.0 L831.8 404.1 L832.2 403.2 L832.5 402.4 L832.9 401.5 L833.3 400.7 L833.7 399.8 L834.2 399.0 L834.6 398.1 L835.1 397.3 L835.6 396.4 L836.1 395.6 L836.6 394.7 L837.2 393.9 L837.7 393.1 L838.3 392.2Z" fill="#4fc3f7" stroke="#4fc3f7" stroke-width="0.5"/>
<path d="M1072.5 409.8 L838.3 392.2 L838.8 391.6 L839.3 390.9 L839.8 390.2 L840.3 389.6 L840.8 388.9 L841.3 388.3 L841.9 387.6 L842.4 387.0 L843.0 386.3 L843.6 385.7 L844.2 385.0 L844.8 384.4 L845.4 383.7 L846.0 383.1 L846.6 382.5 L847.3 381.8 L847.9 381.2 L848.6 380.6 L849.2 379.9 L849.9 379.3 L850.6 378.7 L851.3 378.0 L852.0 377.4 L852.8 376.8 L853.5 376.2 L854.2 375.6 L855.0 375.0 L855.7 374.4 L856.5 373.8 L857.3 373.2 L858.1 372.6 L858.9 372.0 L859.7 371.4 L860.5 370.8 L861.4 370.2 L862.2 369.6 L863.0 369.0 L863.9 368.4 L864.8 367.9 L865.7 367.3 L866.5 366.7 L867.4 366.1 L868.3 365.6 L869.3 365.0 L870.2 364.4 L871.1 363.9 L872.0 363.3 L873.0 362.8 L873.9 362.2 L874.9 361.7 L875.9 361.1 L876.9 360.6 L877.9 360.1 L878.9 359.5 L879.9 359.0 L880.9 358.5 L881.9 357.9 L882.9 357.4 L884.0 356.9 L885.0 356.4 L886.1 355.9 L887.2 355.4 L888.2 354.9 L889.3 354.4 L890.4 353.9 L891.5 353.4 L892.6 352.9 L893.7 352.4 L894.8 351.9 L896.0 351.4 L897.1 350.9 L898.2 350.4 L899.4 350.0 L900.5 349.5 L901.7 349.0 L902.9 348.6 L904.0 348.1 L905.2 347.7 L906.4 347.2 L907.6 346.8 L908.8 346.3 L910.0 345.9 L911.3 345.4 L912.5 345.0 L913.7 344.6 L914.9 344.1 L916.2 343.7 L917.4 343.3 L918.7 342.9 L920.0 342.4Z" fill="#ffd56b" stroke="#ffd56b" stroke-width="0.5"/>
<path d="M1072.5 409.8 L920.0 342.4 L920.9 342.1 L921.9 341.8 L922.8 341.5 L923.8 341.2 L924.7 340.9 L925.7 340.6 L926.7 340.3 L927.6 340.0 L928.6 339.8 L929.6 339.5 L930.6 339.2 L931.6 338.9 L932.6 338.6 L933.5 338.3 L934.5 338.1 L935.5 337.8 L936.5 337.5 L937.5 337.2 L938.5 337.0 L939.6 336.7 L940.6 336.4 L941.6 336.2 L942.6 335.9 L943.6 335.6 L944.7 335.4 L945.7 335.1 L946.7 334.9 L947.7 334.6 L948.8 334.4 L949.8 334.1 L950.9 333.9 L951.9 333.6 L952.9 333.4 L954.0 333.2 L955.0 332.9 L956.1 332.7 L957.2 332.5 L958.2 332.2 L959.3 332.0 L960.3 331.8 L961.4 331.6 L962.5 331.3 L963.5 331.1 L964.6 330.9 L965.7 330.7 L966.8 330.5 L967.9 330.3 L968.9 330.1 L970.0 329.9 L971.1 329.6 L972.2 329.4 L973.3 329.3 L974.4 329.1 L975.5 328.9 L976.6 328.7 L977.7 328.5 L978.8 328.3 L979.9 328.1 L981.0 327.9 L982.1 327.7 L983.2 327.6 L984.3 327.4 L985.4 327.2 L986.6 327.0 L987.7 326.9 L988.8 326.7 L989.9 326.5 L991.0 326.4 L992.2 326.2 L993.3 326.1 L994.4 325.9 L995.5 325.7 L996.7 325.6 L997.8 325.4 L999.0 325.3 L1000.1 325.2 L1001.2 325.0 L1002.4 324.9 L1003.5 324.7 L1004.6 324.6 L1005.8 324.5 L1006.9 324.3 L1008.1 324.2 L1009.2 324.1 L1010.4 324.0 L1011.5 323.8 L1012.7 323.7 L1013.8 323.6 L1015.0 323.5 L1016.2 323.4Z" fill="#0b87cc" stroke="#0b87cc" stroke-width="0.5"/>
<path d="M1072.5 409.8 L1016.2 323.4 L1016.8 323.3 L1017.4 323.2 L1018.0 323.2 L1018.6 323.1 L1019.2 323.1 L1019.9 323.0 L1020.5 323.0 L1021.1 322.9 L1021.7 322.9 L1022.3 322.8 L1022.9 322.8 L1023.6 322.7 L1024.2 322.6 L1024.8 322.6 L1025.4 322.5 L1026.0 322.5 L1026.7 322.5 L1027.3 322.4 L1027.9 322.4 L1028.5 322.3 L1029.2 322.3 L1029.8 322.2 L1030.4 322.2 L1031.0 322.1 L1031.6 322.1 L1032.3 322.0 L1032.9 322.0 L1033.5 322.0 L1034.1 321.9 L1034.8 321.9 L1035.4 321.8 L1036.0 321.8 L1036.6 321.8 L1037.3 321.7 L1037.9 321.7 L1038.5 321.7 L1039.1 321.6 L1039.8 321.6 L1040.4 321.5 L1041.0 321.5 L1041.6 321.5 L1042.3 321.5 L1042.9 321.4 L1043.5 321.4 L1044.2 321.4 L1044.8 321.3 L1045.4 321.3 L1046.0 321.3 L1046.7 321.2 L1047.3 321.2 L1047.9 321.2 L1048.5 321.2 L1049.2 321.1 L1049.8 321.1 L1050.4 321.1 L1051.1 321.1 L1051.7 321.0 L1052.3 321.0 L1053.0 321.0 L1053.6 321.0 L1054.2 321.0 L1054.8 320.9 L1055.5 320.9 L1056.1 320.9 L1056.7 320.9 L1057.4 320.9 L1058.0 320.9 L1058.6 320.8 L1059.3 320.8 L1059.9 320.8 L1060.5 320.8 L1061.1 320.8 L1061.8 320.8 L1062.4 320.8 L1063.0 320.8 L1063.7 320.8 L1064.3 320.7 L1064.9 320.7 L1065.6 320.7 L1066.2 320.7 L1066.8 320.7 L1067.5 320.7 L1068.1 320.7 L1068.7 320.7 L1069.3 320.7 L1070.0 320.7 L1070.6 320.7 L1071.2 320.7 L1071.9 320.7 L1072.5 320.7Z" fill="#93b311" stroke="#93b311" stroke-width="0.5"/>
</g>
<g id="labels">
<text x="426.2" y="402.2" text-anchor="middle" font-size="27" fill="#2a0e00" stroke="#2a0e00" textLength="52.4" lengthAdjust="spacing">40.5</text>
<text x="236.6" y="476.5" text-anchor="middle" font-size="27" fill="#1c1c1c" stroke="#1c1c1c" textLength="29.8" lengthAdjust="spacing">40</text>
<text x="152.1" y="379.8" text-anchor="middle" font-size="27" fill="#08202f" stroke="#08202f" textLength="35.8" lengthAdjust="spacing">9.7</text>
<text x="174.2" y="319.2" text-anchor="middle" font-size="27" fill="#4a4a4a" stroke="#4a4a4a" textLength="34.5" lengthAdjust="spacing">3.1</text>
<text x="217.8" y="315.4" text-anchor="middle" font-size="27" fill="#4a4a4a" stroke="#4a4a4a" textLength="33.2" lengthAdjust="spacing">3.1</text>
<text x="262.7" y="312.9" text-anchor="middle" font-size="27" fill="#4a4a4a" stroke="#4a4a4a" textLength="34.4" lengthAdjust="spacing">2.1</text>
<text x="306.3" y="307.8" text-anchor="middle" font-size="27" fill="#4a4a4a" stroke="#4a4a4a" textLength="33.2" lengthAdjust="spacing">1.5</text>
<text x="1165.2" y="401.8" text-anchor="middle" font-size="25" fill="#2a0e00" stroke="#2a0e00" textLength="51.8" lengthAdjust="spacing">34.9</text>
<text x="1069.9" y="481.7" text-anchor="middle" font-size="25" fill="#1c1c1c" stroke="#1c1c1c" textLength="50.3" lengthAdjust="spacing">30.3</text>
<text x="869.5" y="436.1" text-anchor="middle" font-size="25" fill="#08202f" stroke="#08202f" textLength="48.8" lengthAdjust="spacing">12.8</text>
<text x="911.0" y="385.0" text-anchor="middle" font-size="25" fill="#241a00" stroke="#241a00" textLength="48.8" lengthAdjust="spacing">10.3</text>
<text x="990.8" y="357.5" text-anchor="middle" font-size="25" fill="#031a2b" stroke="#031a2b" textLength="34.0" lengthAdjust="spacing">7.7</text>
<text x="1038.1" y="311.0" text-anchor="middle" font-size="25" fill="#4a4a4a" stroke="#4a4a4a" textLength="34.1" lengthAdjust="spacing">4.1</text>
</g>
<g id="legend1">
<rect x="61.8" y="606.4" width="14.3" height="11.0" fill="#ff6600"/>
<text class="lg" x="82.7" y="619.7" font-size="26.5" letter-spacing="0.79">1</text>
<text class="lg" transform="translate(98.5 620.2) scale(1.000 1)" font-size="25">－</text>
<text class="lg" x="126.1" y="619.7" font-size="26.5" letter-spacing="0.79">3</text>
<text class="lg cj" transform="translate(142.0 621.7) scale(1.000 1)" font-size="25" letter-spacing="4.40">分钟</text>
<rect x="333.4" y="606.4" width="14.3" height="11.0" fill="#d9d9d9"/>
<text class="lg" x="354.4" y="619.7" font-size="26.5" letter-spacing="0.79">3</text>
<text class="lg" transform="translate(370.2 620.2) scale(1.000 1)" font-size="25">－</text>
<text class="lg" x="397.8" y="619.7" font-size="26.5" letter-spacing="0.79">5</text>
<text class="lg cj" transform="translate(413.7 621.7) scale(1.000 1)" font-size="25" letter-spacing="4.40">分钟</text>
<rect x="61.8" y="636.4" width="14.3" height="11.0" fill="#4fc3f7"/>
<text class="lg" x="82.7" y="649.7" font-size="26.5" letter-spacing="0.79">5</text>
<text class="lg" transform="translate(98.5 650.2) scale(1.000 1)" font-size="25">－</text>
<text class="lg" x="126.1" y="649.7" font-size="26.5" letter-spacing="0.79">10</text>
<text class="lg cj" transform="translate(156.0 651.7) scale(1.000 1)" font-size="25" letter-spacing="4.40">分钟</text>
<rect x="333.4" y="636.4" width="14.3" height="11.0" fill="#ffd56b"/>
<text class="lg" x="354.4" y="649.7" font-size="26.5" letter-spacing="0.79">10</text>
<text class="lg" transform="translate(384.3 650.2) scale(1.000 1)" font-size="25">－</text>
<text class="lg" x="411.9" y="649.7" font-size="26.5" letter-spacing="0.79">15</text>
<text class="lg cj" transform="translate(441.8 651.7) scale(1.000 1)" font-size="25" letter-spacing="4.40">分钟</text>
<rect x="61.8" y="666.4" width="14.3" height="11.0" fill="#0b87cc"/>
<text class="lg" x="82.7" y="679.7" font-size="26.5" letter-spacing="0.79">30</text>
<text class="lg cj" transform="translate(112.6 681.7) scale(1.000 1)" font-size="25" letter-spacing="4.40">分钟及以上</text>
<rect x="333.4" y="666.4" width="14.3" height="11.0" fill="#93b311"/>
<text class="lg" x="354.4" y="679.7" font-size="26.5" letter-spacing="0.79">1</text>
<text class="lg cj" transform="translate(370.2 681.7) scale(1.000 1)" font-size="25" letter-spacing="4.40">分钟以内</text>
<rect x="61.8" y="696.3" width="14.3" height="11.0" fill="#ff9a85"/>
<text class="lg" x="82.7" y="709.6" font-size="26.5" letter-spacing="0.79">15</text>
<text class="lg" transform="translate(112.6 710.1) scale(1.000 1)" font-size="25">－</text>
<text class="lg" x="140.2" y="709.6" font-size="26.5" letter-spacing="0.79">30</text>
<text class="lg cj" transform="translate(170.1 711.6) scale(1.000 1)" font-size="25" letter-spacing="4.40">分钟</text>
</g>
<g id="legend2">
<rect x="850.2" y="615.3" width="13.9" height="12.2" fill="#ff6600"/>
<text class="lg" x="871.6" y="628.6" font-size="25.5" letter-spacing="2.17">3</text>
<text class="lg" transform="translate(887.7 629.1) scale(1.000 1)" font-size="25">－</text>
<text class="lg" x="916.1" y="628.6" font-size="25.5" letter-spacing="2.17">5</text>
<text class="lg cj" transform="translate(931.7 630.6) scale(1.040 1)" font-size="25" letter-spacing="3.46">分钟</text>
<rect x="1106.8" y="615.3" width="13.9" height="12.2" fill="#d9d9d9"/>
<text class="lg" x="1128.9" y="628.6" font-size="25.5" letter-spacing="2.17">5</text>
<text class="lg" transform="translate(1145.0 629.1) scale(1.000 1)" font-size="25">－</text>
<text class="lg" x="1173.4" y="628.6" font-size="25.5" letter-spacing="2.17">10</text>
<text class="lg cj" transform="translate(1204.0 630.6) scale(1.040 1)" font-size="25" letter-spacing="3.46">分钟</text>
<rect x="850.2" y="654.6" width="13.9" height="12.2" fill="#4fc3f7"/>
<text class="lg" x="871.6" y="667.9" font-size="25.5" letter-spacing="2.17">1</text>
<text class="lg" transform="translate(887.7 668.4) scale(1.000 1)" font-size="25">－</text>
<text class="lg" x="916.1" y="667.9" font-size="25.5" letter-spacing="2.17">3</text>
<text class="lg cj" transform="translate(931.7 669.9) scale(1.040 1)" font-size="25" letter-spacing="3.46">分钟</text>
<rect x="1106.8" y="654.6" width="13.9" height="12.2" fill="#ffd56b"/>
<text class="lg" x="1128.9" y="667.9" font-size="25.5" letter-spacing="2.17">10</text>
<text class="lg" transform="translate(1159.9 668.4) scale(1.000 1)" font-size="25">－</text>
<text class="lg" x="1188.3" y="667.9" font-size="25.5" letter-spacing="2.17">15</text>
<text class="lg cj" transform="translate(1218.9 669.9) scale(1.040 1)" font-size="25" letter-spacing="3.46">分钟</text>
<rect x="850.2" y="693.5" width="13.9" height="12.2" fill="#0b87cc"/>
<text class="lg" x="871.6" y="706.8" font-size="25.5" letter-spacing="2.17">15</text>
<text class="lg" transform="translate(902.6 707.3) scale(1.000 1)" font-size="25">－</text>
<text class="lg" x="931.0" y="706.8" font-size="25.5" letter-spacing="2.17">30</text>
<text class="lg cj" transform="translate(961.6 708.8) scale(1.040 1)" font-size="25" letter-spacing="3.46">分钟</text>
<rect x="1106.8" y="693.5" width="13.9" height="12.2" fill="#93b311"/>
<text class="lg" x="1128.9" y="706.8" font-size="25.5" letter-spacing="2.17">30</text>
<text class="lg cj" transform="translate(1159.4 708.8) scale(1.040 1)" font-size="25" letter-spacing="3.46">分钟及以上</text>
</g>
</g>
</svg>
</body>
</html>
